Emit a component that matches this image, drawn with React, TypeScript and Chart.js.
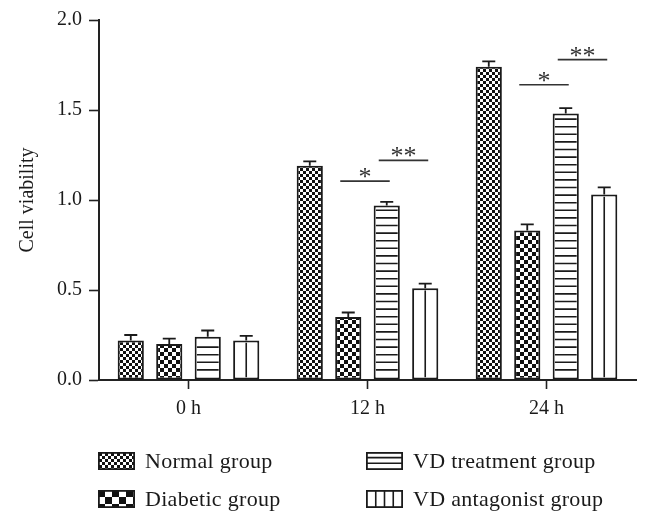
import React, { useEffect, useRef } from 'react';
import { Chart, registerables } from 'chart.js';

Chart.register(...registerables);

const categories = ['0 h', '12 h', '24 h'];
const seriesNames = ['Normal group', 'Diabetic group', 'VD treatment group', 'VD antagonist group'];
const normalValues = [0.22, 1.19, 1.74];
const normalErrors = [0.03, 0.025, 0.03];
const diabeticValues = [0.2, 0.35, 0.83];
const diabeticErrors = [0.03, 0.025, 0.035];
const treatmentValues = [0.24, 0.97, 1.48];
const treatmentErrors = [0.035, 0.02, 0.03];
const antagonistValues = [0.22, 0.51, 1.03];
const antagonistErrors = [0.025, 0.025, 0.04];

const yMin = 0;
const yMax = 2;
const yStep = 0.5;

// significance brackets
const sigCategory = [1, 1, 2, 2];
const sigFrom = [1, 2, 1, 2];
const sigTo = [2, 3, 2, 3];
const sigLevel = [1.105, 1.22, 1.64, 1.78];
const sigLabel = ['*', '**', '*', '**'];

const allValues = [normalValues, diabeticValues, treatmentValues, antagonistValues];
const allErrors = [normalErrors, diabeticErrors, treatmentErrors, antagonistErrors];

const FONT = '"Liberation Serif", "Times New Roman", serif';
const INK = '#1a1a1a';

function checkerPattern(cell: number): CanvasPattern | string {
  const c = document.createElement('canvas');
  c.width = cell * 2;
  c.height = cell * 2;
  const g = c.getContext('2d');
  if (!g) return '#888';
  g.fillStyle = '#fff';
  g.fillRect(0, 0, cell * 2, cell * 2);
  g.fillStyle = '#111';
  g.fillRect(0, 0, cell, cell);
  g.fillRect(cell, cell, cell, cell);
  return g.createPattern(c, 'repeat') || '#888';
}

function drawHatch(
  ctx: CanvasRenderingContext2D,
  kind: number,
  l: number,
  t: number,
  r: number,
  b: number,
  hSpacing: number,
  vCells: number
) {
  ctx.save();
  ctx.beginPath();
  ctx.rect(l, t, r - l, b - t);
  ctx.clip();
  ctx.strokeStyle = INK;
  ctx.lineWidth = 1.6;
  ctx.beginPath();
  if (kind === 2) {
    for (let yy = b - hSpacing; yy > t + 2; yy -= hSpacing) {
      ctx.moveTo(l, yy);
      ctx.lineTo(r, yy);
    }
  } else if (kind === 3) {
    const n = vCells;
    for (let k = 1; k < n; k++) {
      const xx = l + ((r - l) * k) / n;
      ctx.moveTo(xx, t);
      ctx.lineTo(xx, b);
    }
  }
  ctx.stroke();
  ctx.restore();
}

export default function App() {
  const ref = useRef<HTMLCanvasElement | null>(null);

  useEffect(() => {
    document.body.style.margin = '0';
    const canvas = ref.current;
    if (!canvas) return;

    const fineChecker = checkerPattern(3);
    const coarseChecker = checkerPattern(4);
    const legendFine = checkerPattern(3);
    const legendCoarse = checkerPattern(7);
    const fills = [fineChecker, coarseChecker, '#fff', '#fff'];
    const legendFills = [legendFine, legendCoarse, '#fff', '#fff'];

    const overlayPlugin = {
      id: 'overlay',
      afterDatasetsDraw(chart: any) {
        const ctx: CanvasRenderingContext2D = chart.ctx;
        const yScale = chart.scales.y;
        // hatching
        for (let i = 2; i < 4; i++) {
          const meta = chart.getDatasetMeta(i);
          meta.data.forEach((bar: any) => {
            const p = bar.getProps(['x', 'y', 'base', 'width'], true);
            const bw = 2;
            drawHatch(ctx, i, p.x - p.width / 2 + bw, p.y + bw, p.x + p.width / 2 - bw, p.base - bw, 7.6, 2);
          });
        }
        // error bars
        ctx.save();
        ctx.strokeStyle = INK;
        ctx.lineWidth = 1.8;
        for (let i = 0; i < 4; i++) {
          const meta = chart.getDatasetMeta(i);
          meta.data.forEach((bar: any, j: number) => {
            const p = bar.getProps(['x', 'y'], true);
            const top = yScale.getPixelForValue(allValues[i][j] + allErrors[i][j]);
            ctx.beginPath();
            ctx.moveTo(p.x, p.y);
            ctx.lineTo(p.x, top);
            ctx.moveTo(p.x - 6.5, top);
            ctx.lineTo(p.x + 6.5, top);
            ctx.stroke();
          });
        }
        ctx.restore();
        // significance brackets
        ctx.save();
        ctx.strokeStyle = '#333';
        ctx.fillStyle = '#333';
        ctx.lineWidth = 1.6;
        ctx.font = `26px ${FONT}`;
        ctx.textAlign = 'center';
        ctx.textBaseline = 'alphabetic';
        for (let k = 0; k < sigLabel.length; k++) {
          const a = chart.getDatasetMeta(sigFrom[k]).data[sigCategory[k]];
          const b = chart.getDatasetMeta(sigTo[k]).data[sigCategory[k]];
          const x1 = a.x - 8;
          const x2 = b.x + 3;
          const yy = yScale.getPixelForValue(sigLevel[k]);
          ctx.beginPath();
          ctx.moveTo(x1, yy);
          ctx.lineTo(x2, yy);
          ctx.stroke();
          ctx.fillText(sigLabel[k], (x1 + x2) / 2, yy + 4);
        }
        ctx.restore();
      },
      afterDraw(chart: any) {
        const ctx: CanvasRenderingContext2D = chart.ctx;
        const colX = [98, 366];
        const rowY = [461, 499];
        ctx.save();
        ctx.font = `22px ${FONT}`;
        (ctx as any).letterSpacing = '0.3px';
        ctx.textBaseline = 'middle';
        ctx.textAlign = 'left';
        for (let i = 0; i < seriesNames.length; i++) {
          const col = i < 2 ? 0 : 1;
          const row = i % 2;
          const x = colX[col];
          const y = rowY[row];
          const w = 37;
          const h = 18;
          const top = y - h / 2;
          ctx.fillStyle = legendFills[i] as any;
          ctx.fillRect(x, top, w, h);
          drawHatch(ctx, i, x + 1, top + 1, x + w - 1, top + h - 1, 5.7, 4);
          ctx.strokeStyle = INK;
          ctx.lineWidth = 1.8;
          ctx.strokeRect(x + 0.9, top + 0.9, w - 1.8, h - 1.8);
          ctx.fillStyle = '#1a1a1a';
          ctx.fillText(seriesNames[i], x + 47, y + 1);
        }
        ctx.restore();
      },
    };

    const chart = new Chart(canvas, {
      type: 'bar',
      data: {
        labels: categories,
        datasets: allValues.map((vals, i) => ({
          label: seriesNames[i],
          data: vals,
          backgroundColor: fills[i] as any,
          borderColor: INK,
          borderWidth: 2,
          borderSkipped: false as any,
          barPercentage: 0.68,
          categoryPercentage: 0.86,
        })),
      },
      options: {
        animation: false,
        responsive: false,
        devicePixelRatio: 1,
        layout: { padding: { left: 0, top: 20, right: 17, bottom: 90 } },
        plugins: {
          legend: { display: false },
          tooltip: { enabled: false },
        },
        scales: {
          x: {
            grid: {
              display: true,
              drawOnChartArea: false,
              offset: false,
              tickLength: 9,
              tickColor: '#222',
              tickWidth: 1.6,
            },
            border: { display: true, color: '#222', width: 2 },
            ticks: { color: '#1a1a1a', padding: 8, font: { family: FONT, size: 20 } },
            afterFit: (s: any) => {
              s.height = 56;
            },
          },
          y: {
            min: yMin,
            max: yMax,
            grid: {
              display: true,
              drawOnChartArea: false,
              tickLength: 10,
              tickColor: '#222',
              tickWidth: 1.6,
            },
            border: { display: true, color: '#222', width: 2 },
            ticks: {
              stepSize: yStep,
              color: '#1a1a1a',
              padding: 7,
              font: { family: FONT, size: 20 },
              callback: (v: any) => Number(v).toFixed(1),
            },
            title: {
              display: true,
              text: 'Cell viability',
              color: '#1a1a1a',
              font: { family: FONT, size: 20 },
              padding: { top: 16, bottom: 0 },
            },
            afterFit: (s: any) => {
              s.width = 99;
            },
          },
        },
      },
      plugins: [overlayPlugin],
    });

    return () => chart.destroy();
  }, []);

  return (
    <div style={{ width: 653, height: 526 }}>
      <canvas ref={ref} width={653} height={526} style={{ display: 'block' }} />
    </div>
  );
}
